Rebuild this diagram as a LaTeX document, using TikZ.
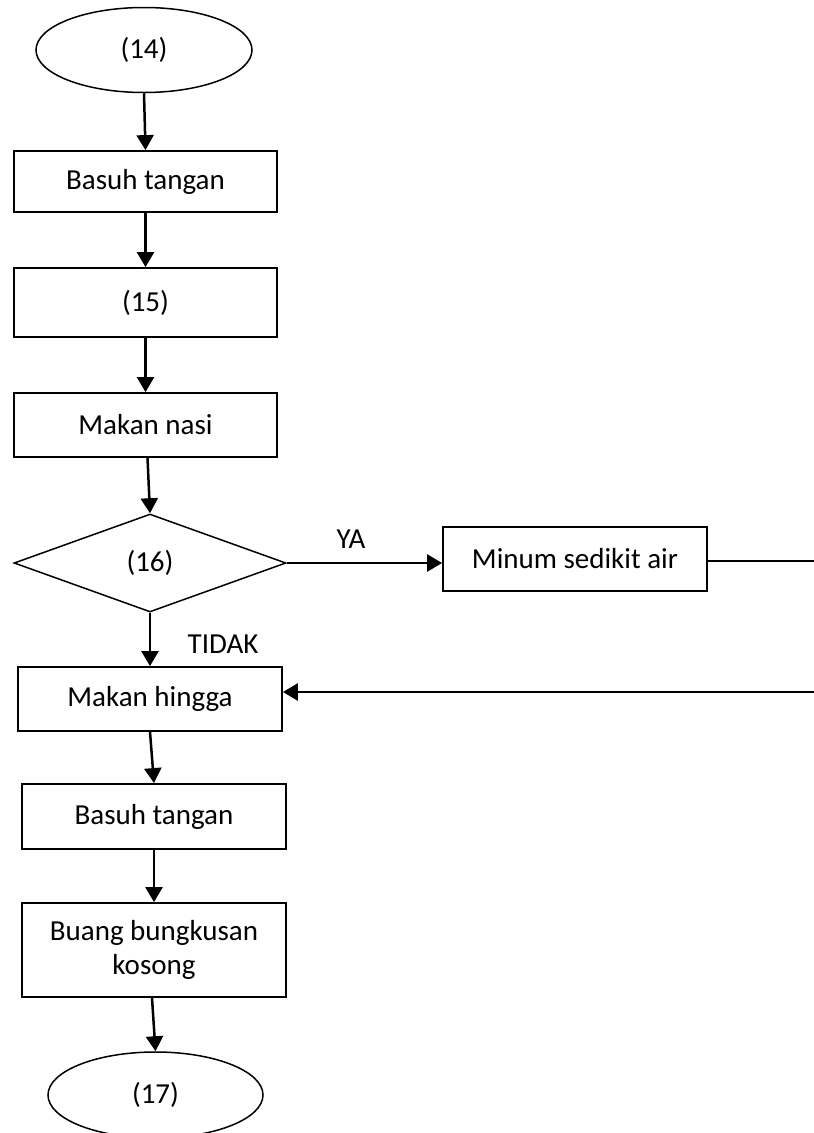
\documentclass[tikz,border=0pt]{standalone}
\usepackage{fontspec}
\setmainfont{Carlito}
\usetikzlibrary{shapes.geometric,arrows.meta}
\begin{document}
\begin{tikzpicture}[x=1pt,y=-1pt,
  every node/.style={font=\fontsize{29}{35}\selectfont},
  procbox/.style={draw,line width=1.8pt,rectangle,inner sep=0pt,align=center},
  term/.style={draw,line width=1.5pt,ellipse,inner sep=0pt,minimum width=216pt,minimum height=85pt},
  decide/.style={draw,line width=1.5pt,diamond,inner sep=0pt,minimum width=272pt,minimum height=98pt},
  flow/.style={line width=2.5pt,-{Triangle[width=17pt,length=15pt]}},
  lbl/.style={inner sep=0pt}]
\useasboundingbox (0,0) rectangle (814,1133);
\node[term] (e14) at (144,50) {(14)};
\node[procbox,minimum width=263pt,minimum height=61pt] (b1) at (145.5,181.5) {Basuh tangan};
\node[procbox,minimum width=263pt,minimum height=69pt] (b15) at (145.5,302.5) {(15)};
\node[procbox,minimum width=263pt,minimum height=64pt] (nasi) at (145.5,425) {Makan nasi};
\node[decide] (d16) at (150,563) {(16)};
\node[procbox,minimum width=264pt,minimum height=64pt] (minum) at (575,559) {Minum sedikit air};
\node[procbox,minimum width=264pt,minimum height=64pt] (hingga) at (150,699) {Makan hingga};
\node[procbox,minimum width=264pt,minimum height=65pt] (b2) at (154,816.5) {Basuh tangan};
\node[procbox,minimum width=264pt,minimum height=94pt] (buang) at (154,950) {Buang bungkusan\\[-1pt]kosong};
\node[term,minimum width=215pt,minimum height=86pt] (e17) at (155.5,1095) {(17)};
\node[lbl] (ya) at (351,539) {YA};
\node[lbl] (tidak) at (223,644) {TIDAK};
\coordinate (r1) at (814,561);
\coordinate (r2) at (814,692);
\draw[flow] (e14.south) -- (b1.north);
\draw[flow] (b1.south) -- (b15.north);
\draw[flow] (b15.south) -- (nasi.north);
\draw[flow] ([xshift=2pt]nasi.south) -- (d16.north);
\draw[flow] (d16.east) -- (minum.west |- d16.east);
\draw[line width=1.5pt] (minum.east |- r1) -- (r1);
\draw[flow] (d16.south) -- (hingga.north);
\draw[flow] (r2) -- (hingga.east |- r2);
\draw[flow] (hingga.south) -- (b2.north);
\draw[flow] (b2.south) -- (buang.north);
\draw[flow] ([xshift=-2pt]buang.south) -- (e17.north);
\end{tikzpicture}
\end{document}
